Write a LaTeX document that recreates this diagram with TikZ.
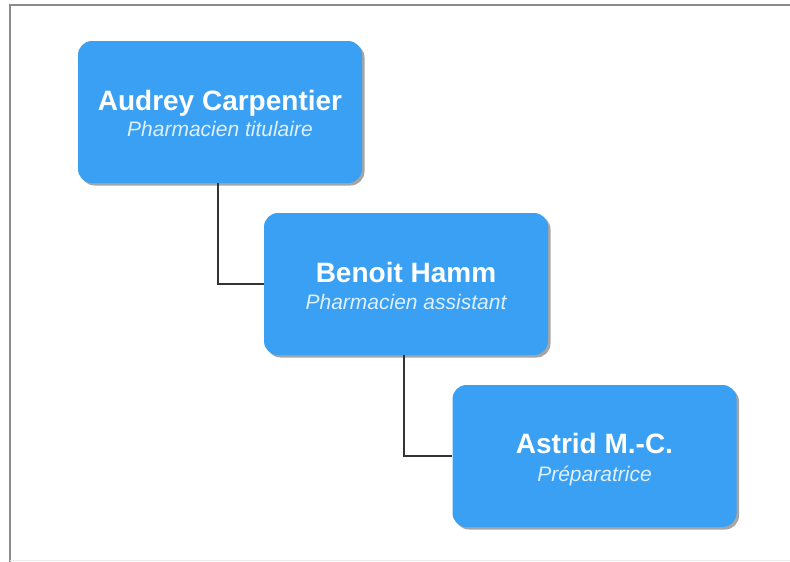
\documentclass[tikz,border=0pt]{standalone}
\usepackage{fontspec}
\setmainfont{Liberation Sans}
\usetikzlibrary{shadows}
\definecolor{boxblue}{RGB}{58,160,243}
\definecolor{subtext}{RGB}{222,239,255}
\definecolor{framegray}{RGB}{140,140,140}
\begin{document}
\begin{tikzpicture}[x=1pt,y=-1pt,
  personbox/.style={fill=boxblue, rounded corners=14pt, minimum width=284pt, minimum height=142pt, inner sep=0pt,
    drop shadow={shadow xshift=2.5pt, shadow yshift=-2.5pt, fill=black!70, opacity=0.5}},
  nametext/.style={anchor=base, text=white, font=\bfseries\fontsize{28}{32}\selectfont, inner sep=0pt},
  roletext/.style={anchor=base, text=subtext, font=\itshape\fontsize{21}{25}\selectfont, inner sep=0pt},
  link/.style={draw=black!80, line width=1.2pt}]
\useasboundingbox (0,0) rectangle (790,562);
\fill[white] (0,0) rectangle (790,562);
% frame
\draw[framegray, line width=2pt] (10,562) -- (10,5) -- (790,5);
\draw[black!8, line width=1pt] (10,560.5) -- (790,560.5);
% boxes
\node[personbox] (a) at (220,112) {};
\node[personbox] (b) at (406,284) {};
\node[personbox] (c) at (594.5,456) {};
% texts
\node[nametext] (an) at ([yshift=2pt]a.center) {Audrey Carpentier};
\node[roletext] (ar) at ([yshift=-24pt]a.center) {Pharmacien titulaire};
\node[nametext] (bn) at ([yshift=2pt]b.center) {Benoit Hamm};
\node[roletext] (br) at ([yshift=-25pt]b.center) {Pharmacien assistant};
\node[nametext] (cn) at ([yshift=3pt]c.center) {Astrid M.-C.};
\node[roletext] (cr) at ([yshift=-25pt]c.center) {Préparatrice};
% connectors
\draw[link] ([xshift=-2pt]a.south) |- (b.west);
\draw[link] ([xshift=-2pt]b.south) |- (c.west);
\end{tikzpicture}
\end{document}
